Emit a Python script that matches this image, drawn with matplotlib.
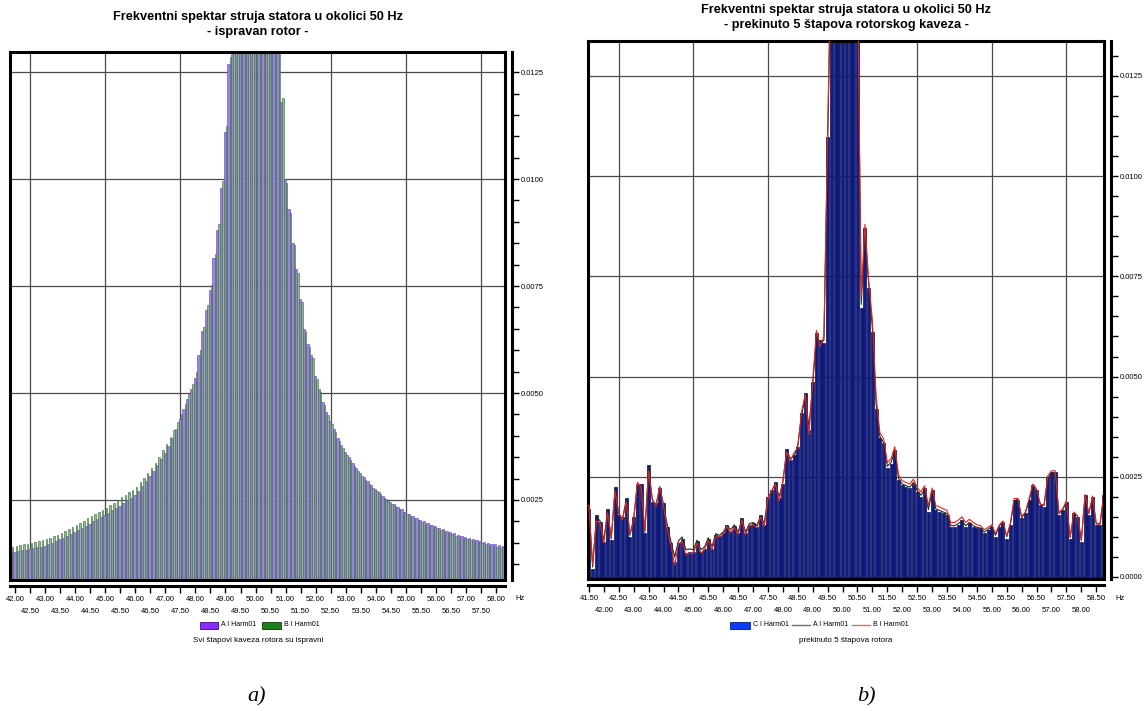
import numpy as np
import matplotlib
matplotlib.use('Agg')
import matplotlib.pyplot as plt
from matplotlib.patches import Rectangle
from matplotlib.lines import Line2D
from matplotlib.ticker import MultipleLocator, FormatStrFormatter

plt.rcParams['font.family'] = ['Liberation Sans', 'DejaVu Sans']

# ---------------- data: panel a) (healthy rotor), bins every 0.125 Hz from 41.875 Hz
left_f0 = 41.875
left_step = 0.125
left_A = [
    0.00127, 0.00129, 0.00130, 0.00132, 0.00133, 0.00135, 0.00137, 0.00139,
    0.00141, 0.00143, 0.00147, 0.00150, 0.00154, 0.00158, 0.00162, 0.00167,
    0.00171, 0.00176, 0.00180, 0.00185, 0.00190, 0.00195, 0.00200, 0.00205,
    0.00210, 0.00215, 0.00220, 0.00226, 0.00231, 0.00237, 0.00243, 0.00249,
    0.00255, 0.00262, 0.00272, 0.00283, 0.00294, 0.00305, 0.00318, 0.00331,
    0.00345, 0.00360, 0.00377, 0.00396, 0.00417, 0.00440, 0.00462, 0.00485,
    0.00510, 0.00535, 0.00590, 0.00645, 0.00695, 0.00740, 0.00815, 0.00880,
    0.00980, 0.01110, 0.01270, 0.01450, 0.01650, 0.01900, 0.02200, 0.02600,
    0.03000, 0.03200, 0.03000, 0.02600, 0.02200, 0.01900, 0.01650, 0.01420,
    0.01180, 0.01000, 0.00930, 0.00850, 0.00790, 0.00720, 0.00650, 0.00615,
    0.00590, 0.00540, 0.00510, 0.00480, 0.00455, 0.00435, 0.00415, 0.00395,
    0.00378, 0.00362, 0.00350, 0.00336, 0.00324, 0.00313, 0.00303, 0.00294,
    0.00285, 0.00276, 0.00268, 0.00260, 0.00253, 0.00246, 0.00240, 0.00234,
    0.00228, 0.00223, 0.00218, 0.00213, 0.00208, 0.00204, 0.00200, 0.00196,
    0.00192, 0.00189, 0.00185, 0.00182, 0.00178, 0.00175, 0.00172, 0.00169,
    0.00166, 0.00163, 0.00161, 0.00158, 0.00156, 0.00154, 0.00152, 0.00150,
    0.00148, 0.00146, 0.00144, 0.00142,
]
left_B = [
    0.00141, 0.00143, 0.00145, 0.00146, 0.00148, 0.00150, 0.00152, 0.00154,
    0.00156, 0.00159, 0.00162, 0.00165, 0.00169, 0.00173, 0.00178, 0.00183,
    0.00187, 0.00192, 0.00197, 0.00202, 0.00207, 0.00212, 0.00217, 0.00222,
    0.00227, 0.00232, 0.00238, 0.00244, 0.00250, 0.00256, 0.00262, 0.00268,
    0.00274, 0.00281, 0.00291, 0.00302, 0.00313, 0.00324, 0.00337, 0.00351,
    0.00366, 0.00381, 0.00397, 0.00414, 0.00433, 0.00452, 0.00474, 0.00497,
    0.00522, 0.00548, 0.00600, 0.00655, 0.00705, 0.00752, 0.00825, 0.00895,
    0.00995, 0.01125, 0.01285, 0.01460, 0.01660, 0.01910, 0.02220, 0.02620,
    0.03010, 0.03210, 0.03000, 0.02590, 0.02190, 0.01890, 0.01640, 0.01410,
    0.01190, 0.00990, 0.00920, 0.00845, 0.00780, 0.00712, 0.00645, 0.00608,
    0.00582, 0.00533, 0.00503, 0.00473, 0.00448, 0.00428, 0.00408, 0.00389,
    0.00372, 0.00356, 0.00344, 0.00330, 0.00318, 0.00307, 0.00297, 0.00288,
    0.00279, 0.00271, 0.00263, 0.00255, 0.00248, 0.00241, 0.00235, 0.00229,
    0.00223, 0.00218, 0.00213, 0.00208, 0.00203, 0.00199, 0.00195, 0.00191,
    0.00187, 0.00184, 0.00180, 0.00177, 0.00173, 0.00170, 0.00167, 0.00164,
    0.00161, 0.00158, 0.00156, 0.00153, 0.00151, 0.00149, 0.00147, 0.00145,
    0.00143, 0.00141, 0.00139, 0.00137,
]

# ---------------- data: panel b) (5 broken bars), bins every 0.125 Hz from 41.5 Hz
right_f0 = 41.5
right_step = 0.125
right_C = [
    0.00170, 0.00020, 0.00155, 0.00138, 0.00088, 0.00170, 0.00092, 0.00225,
    0.00155, 0.00150, 0.00196, 0.00100, 0.00150, 0.00229, 0.00233, 0.00109,
    0.00279, 0.00188, 0.00184, 0.00221, 0.00184, 0.00125, 0.00084, 0.00038,
    0.00084, 0.00094, 0.00059, 0.00063, 0.00063, 0.00090, 0.00063, 0.00071,
    0.00096, 0.00071, 0.00105, 0.00102, 0.00109, 0.00130, 0.00114, 0.00127,
    0.00109, 0.00146, 0.00109, 0.00130, 0.00134, 0.00125, 0.00155, 0.00130,
    0.00200, 0.00217, 0.00238, 0.00196, 0.00233, 0.00320, 0.00292, 0.00304,
    0.00325, 0.00408, 0.00458, 0.00366, 0.00487, 0.00609, 0.00590, 0.00583,
    0.01097, 0.01600, 0.02100, 0.02800, 0.03400, 0.03000, 0.02400, 0.01900,
    0.01500, 0.00670, 0.00870, 0.00720, 0.00610, 0.00420, 0.00346, 0.00333,
    0.00271, 0.00283, 0.00317, 0.00242, 0.00229, 0.00225, 0.00221, 0.00233,
    0.00213, 0.00200, 0.00221, 0.00163, 0.00217, 0.00167, 0.00163, 0.00159,
    0.00155, 0.00125, 0.00125, 0.00130, 0.00142, 0.00125, 0.00134, 0.00125,
    0.00121, 0.00121, 0.00109, 0.00117, 0.00125, 0.00100, 0.00125, 0.00138,
    0.00096, 0.00130, 0.00192, 0.00192, 0.00146, 0.00159, 0.00192, 0.00229,
    0.00217, 0.00179, 0.00175, 0.00250, 0.00262, 0.00262, 0.00155, 0.00167,
    0.00188, 0.00096, 0.00159, 0.00150, 0.00088, 0.00204, 0.00155, 0.00200,
    0.00130, 0.00130, 0.00204,
]
right_A = [
    0.00175, 0.00025, 0.00150, 0.00140, 0.00092, 0.00165, 0.00095, 0.00220,
    0.00158, 0.00145, 0.00192, 0.00104, 0.00146, 0.00232, 0.00228, 0.00112,
    0.00272, 0.00192, 0.00180, 0.00224, 0.00180, 0.00130, 0.00088, 0.00050,
    0.00090, 0.00100, 0.00068, 0.00070, 0.00068, 0.00092, 0.00068, 0.00075,
    0.00098, 0.00076, 0.00108, 0.00104, 0.00112, 0.00128, 0.00118, 0.00130,
    0.00112, 0.00144, 0.00112, 0.00133, 0.00136, 0.00128, 0.00152, 0.00134,
    0.00198, 0.00214, 0.00235, 0.00200, 0.00236, 0.00315, 0.00296, 0.00300,
    0.00330, 0.00402, 0.00452, 0.00372, 0.00480, 0.00600, 0.00585, 0.00590,
    0.01080, 0.01580, 0.02080, 0.02780, 0.03380, 0.02980, 0.02380, 0.01880,
    0.01480, 0.00680, 0.00860, 0.00730, 0.00620, 0.00430, 0.00350, 0.00336,
    0.00276, 0.00286, 0.00314, 0.00246, 0.00232, 0.00228, 0.00224, 0.00236,
    0.00216, 0.00204, 0.00218, 0.00168, 0.00214, 0.00170, 0.00166, 0.00162,
    0.00158, 0.00128, 0.00128, 0.00133, 0.00140, 0.00128, 0.00136, 0.00128,
    0.00124, 0.00122, 0.00112, 0.00119, 0.00126, 0.00104, 0.00127, 0.00136,
    0.00100, 0.00132, 0.00190, 0.00194, 0.00148, 0.00160, 0.00190, 0.00226,
    0.00215, 0.00182, 0.00178, 0.00246, 0.00260, 0.00258, 0.00158, 0.00168,
    0.00185, 0.00100, 0.00156, 0.00152, 0.00092, 0.00200, 0.00158, 0.00196,
    0.00134, 0.00132, 0.00200,
]
right_B = [
    0.00180, 0.00030, 0.00140, 0.00135, 0.00085, 0.00160, 0.00098, 0.00215,
    0.00160, 0.00142, 0.00188, 0.00108, 0.00140, 0.00236, 0.00225, 0.00115,
    0.00265, 0.00195, 0.00176, 0.00226, 0.00178, 0.00120, 0.00080, 0.00030,
    0.00082, 0.00090, 0.00055, 0.00060, 0.00058, 0.00085, 0.00060, 0.00068,
    0.00092, 0.00068, 0.00100, 0.00100, 0.00106, 0.00126, 0.00110, 0.00124,
    0.00106, 0.00142, 0.00106, 0.00128, 0.00131, 0.00122, 0.00150, 0.00126,
    0.00196, 0.00215, 0.00232, 0.00190, 0.00240, 0.00312, 0.00290, 0.00310,
    0.00322, 0.00412, 0.00455, 0.00355, 0.00490, 0.00615, 0.00575, 0.00600,
    0.01110, 0.01620, 0.02120, 0.02820, 0.03420, 0.03020, 0.02420, 0.01920,
    0.01520, 0.00700, 0.00880, 0.00740, 0.00640, 0.00450, 0.00360, 0.00345,
    0.00285, 0.00295, 0.00325, 0.00255, 0.00240, 0.00236, 0.00232, 0.00244,
    0.00224, 0.00212, 0.00228, 0.00178, 0.00222, 0.00178, 0.00175, 0.00170,
    0.00166, 0.00136, 0.00136, 0.00142, 0.00150, 0.00136, 0.00144, 0.00136,
    0.00130, 0.00128, 0.00118, 0.00124, 0.00130, 0.00108, 0.00130, 0.00140,
    0.00102, 0.00135, 0.00196, 0.00196, 0.00150, 0.00162, 0.00196, 0.00232,
    0.00220, 0.00182, 0.00178, 0.00252, 0.00265, 0.00265, 0.00160, 0.00170,
    0.00190, 0.00098, 0.00162, 0.00152, 0.00090, 0.00206, 0.00158, 0.00202,
    0.00132, 0.00132, 0.00206,
]

left_ticks_row1 = [42.0 + i for i in range(17)]       # 42.00 .. 58.00
left_ticks_row2 = [42.5 + i for i in range(16)]       # 42.50 .. 57.50
right_ticks_row1 = [41.5 + i for i in range(18)]      # 41.50 .. 58.50
right_ticks_row2 = [42.0 + i for i in range(17)]      # 42.00 .. 58.00
grid_x = [42.5, 45.0, 47.5, 50.0, 52.5, 55.0, 57.5]

title_1 = "Frekventni spektar struja statora u okolici 50 Hz"
left_title_2 = "- ispravan rotor -"
right_title_2 = "- prekinuto 5 štapova rotorskog kaveza -"
left_caption = "Svi štapovi kaveza rotora su ispravni"
right_caption = "prekinuto 5 štapova rotora"

# ---------------- figure
W, H = 1148, 711
fig = plt.figure(figsize=(W / 100, H / 100), dpi=100)


def fx(px):
    return px / W


def fy(py):
    return 1 - py / H


axL = fig.add_axes([fx(10), fy(580), fx(495), (580 - 52) / H])
axR = fig.add_axes([fx(588), fy(579), fx(516), (579 - 41) / H])

TICK_FS = 5.5


def style(ax, xlim, ylim, row1, row2):
    ax.set_xlim(*xlim)
    ax.set_ylim(*ylim)
    for s in ['left', 'top']:
        ax.spines[s].set_linewidth(2.2)
        ax.spines[s].set_color('black')
    ax.spines['right'].set_position(('outward', 5))
    ax.spines['right'].set_linewidth(2.2)
    ax.spines['bottom'].set_position(('outward', 4))
    ax.spines['bottom'].set_linewidth(2.2)
    ax.plot([1, 1], [0, 1], transform=ax.transAxes, color='black', lw=2.2,
            clip_on=False, zorder=6, solid_capstyle='projecting')
    ax.plot([0, 1], [0, 0], transform=ax.transAxes, color='black', lw=2.2,
            clip_on=False, zorder=6, solid_capstyle='projecting')
    for g in grid_x:
        ax.axvline(g, color='#4a4a4a', lw=0.9, zorder=0.5)
    ax.yaxis.set_major_locator(MultipleLocator(0.0025))
    ax.yaxis.set_minor_locator(MultipleLocator(0.0005))
    ax.yaxis.set_major_formatter(FormatStrFormatter('%.4f'))
    ax.grid(True, axis='y', which='major', color='#4a4a4a', lw=0.9, zorder=0.5)
    ax.set_axisbelow(True)
    ax.yaxis.tick_right()
    ax.tick_params(axis='y', which='both', direction='out', length=5, width=1,
                   labelsize=TICK_FS, pad=1.5, colors='black')
    ax.set_xticks(row1)
    ax.set_xticklabels([f"{t:.2f}" for t in row1])
    ax.set_xticks(row2, minor=True)
    ax.set_xticklabels([f"{t:.2f}" for t in row2], minor=True)
    ax.tick_params(axis='x', which='major', direction='out', length=5, width=1,
                   labelsize=TICK_FS, pad=2.5, colors='black')
    ax.tick_params(axis='x', which='minor', direction='out', length=5, width=1,
                   labelsize=TICK_FS, pad=11.0, colors='black')


# ---- left panel
fL = left_f0 + left_step * np.arange(len(left_A))
wA = left_step * 0.62
wB = left_step * 0.38
axL.bar(fL - left_step / 2 + wA / 2, left_A, width=wA, color='#9a82e4',
        edgecolor='#6d2fe0', linewidth=0.4, zorder=2)
axL.bar(fL + left_step / 2 - wB / 2, left_B, width=wB, color='#98b598',
        edgecolor='#2c6e2c', linewidth=0.4, zorder=2)
style(axL, (41.83, 58.30), (0.00063, 0.01297), left_ticks_row1, left_ticks_row2)

# ---- right panel
fR = right_f0 + right_step * np.arange(len(right_C))
axR.bar(fR, right_C, width=0.1, color='#0f1c8a', edgecolor='#081050',
        linewidth=0.5, zorder=2)
axR.plot(fR, right_A, color='#1e2a1e', lw=0.8, zorder=3)
axR.plot(fR, right_B, color='#e8231e', lw=0.8, zorder=4)
style(axR, (41.47, 58.76), (-0.00005, 0.01337), right_ticks_row1, right_ticks_row2)

# ---- titles
for cx, y1, y2, t2 in [(258, 17, 32, left_title_2), (846, 10, 25, right_title_2)]:
    fig.text(fx(cx), fy(y1), title_1, ha='center', va='center',
             fontsize=9.2, fontweight='bold')
    fig.text(fx(cx), fy(y2), t2, ha='center', va='center',
             fontsize=9.2, fontweight='bold')

# ---- 'Hz' units
fig.text(fx(515), fy(598), 'Hz', fontsize=TICK_FS, va='center', ha='left')
fig.text(fx(1115), fy(598), 'Hz', fontsize=TICK_FS, va='center', ha='left')

# ---- legends (drawn in figure pixels)
LEG_Y = 625
LEG_FS = 5.0


def rect(x0, x1, face, edge):
    fig.patches.append(Rectangle((fx(x0), fy(LEG_Y + 3.5)), fx(x1 - x0), 7 / H,
                                 transform=fig.transFigure, facecolor=face,
                                 edgecolor=edge, linewidth=0.6))


def lline(x0, x1, color):
    fig.lines.append(Line2D([fx(x0), fx(x1)], [fy(LEG_Y), fy(LEG_Y)],
                            transform=fig.transFigure, color=color, lw=1.0))


def ltext(x, s):
    fig.text(fx(x), fy(LEG_Y), s, fontsize=LEG_FS, va='center', ha='left')


rect(200, 218, '#8a2cff', '#3a0a90')
ltext(221, 'A I Harm01')
rect(262, 281, '#1f7f1f', '#0a3a0a')
ltext(284, 'B I Harm01')

rect(730, 750, '#0a3cff', '#051a80')
ltext(753, 'C I Harm01')
lline(792, 810, '#707070')
ltext(813, 'A I Harm01')
lline(852, 870, '#c07a7a')
ltext(873, 'B I Harm01')

fig.text(fx(258), fy(641), left_caption, fontsize=5.8, ha='center', va='center')
fig.text(fx(846), fy(641), right_caption, fontsize=5.8, ha='center', va='center')

# ---- panel letters
fig.text(fx(257), fy(697), 'a)', fontsize=16, ha='center', va='center',
         family='Liberation Serif', style='italic')
fig.text(fx(866), fy(697), 'b)', fontsize=16, ha='center', va='center',
         family='Liberation Serif', style='italic')

fig.savefig('out.png', dpi=100)
